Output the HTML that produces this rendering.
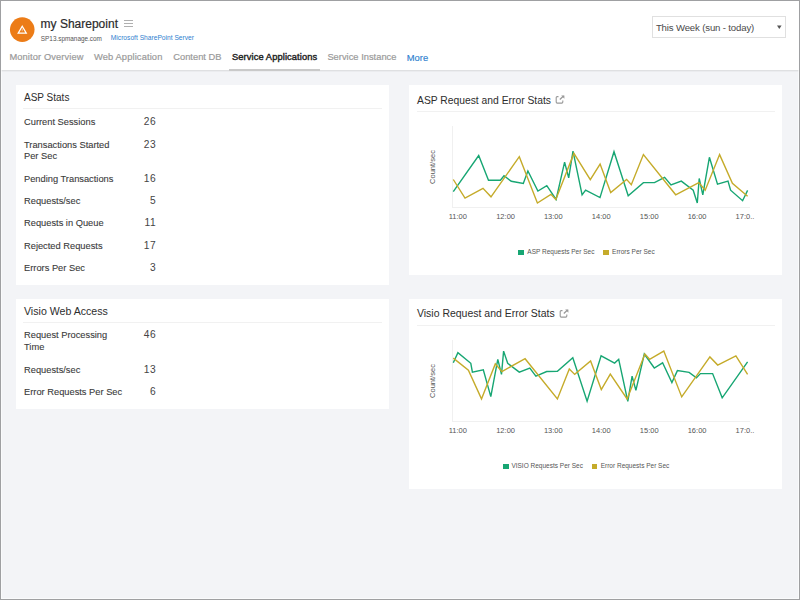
<!DOCTYPE html>
<html><head><meta charset="utf-8"><style>
html,body{margin:0;padding:0}
body{width:800px;height:600px;position:relative;overflow:hidden;background:#f3f4f7;font-family:"Liberation Sans",sans-serif}
.abs{position:absolute}
.t{position:absolute;white-space:nowrap;line-height:1}
.card{position:absolute;background:#fff}
#hdr{position:absolute;left:0;top:0;width:800px;height:70px;background:#fff}
#hdrline{position:absolute;left:0;top:70px;width:800px;height:2px;background:linear-gradient(#dfe0e2 50%,#ebecef 50%)}
#frame{position:absolute;left:0;top:0;width:800px;height:600px;box-sizing:border-box;border:1px solid #9fa0a2;pointer-events:none}
#frame2{position:absolute;left:1px;top:1px;width:798px;height:598px;box-sizing:border-box;border:1px solid rgba(255,255,255,0.6);pointer-events:none}
</style></head><body>
<div id="hdr"></div>
<div id="hdrline"></div>
<svg class="abs" style="left:0;top:0" width="60" height="50" viewBox="0 0 60 50">
<circle cx="22.25" cy="29.6" r="12.3" fill="#ec7c17"/>
<path d="M22.25 26.2 L26.3 33.1 L18.2 33.1 Z" fill="none" stroke="#fff" stroke-width="1.25" stroke-linejoin="miter"/>
<path d="M22.25 28.6 V31.3" stroke="#fff" stroke-width="0.7" opacity="0.75"/>
</svg>
<div class="t" style="left:40.60px;top:18.14px;font-size:12px;color:#2b2b2b;font-weight:normal;-webkit-text-stroke:0.2px #2b2b2b;">my Sharepoint</div>

<div class="abs" style="left:124px;top:20px;width:9px;height:1px;background:#b0b0b0"></div>
<div class="abs" style="left:124px;top:23px;width:9px;height:1px;background:#b0b0b0"></div>
<div class="abs" style="left:124px;top:26px;width:9px;height:1px;background:#b0b0b0"></div>
<div class="t" style="left:40.80px;top:35.68px;font-size:6.4px;color:#555;font-weight:normal;">SP13.spmanage.com</div>

<div class="t" style="left:110.80px;top:35.45px;font-size:6.67px;color:#2f7fcf;font-weight:normal;">Microsoft SharePoint Server</div>

<div class="t" style="left:9.40px;top:52.73px;font-size:9.3px;color:#9a9a9a;font-weight:normal;letter-spacing:0.12px;-webkit-text-stroke:0.2px #9a9a9a;">Monitor Overview</div>

<div class="t" style="left:94.00px;top:52.73px;font-size:9.3px;color:#9a9a9a;font-weight:normal;letter-spacing:0.13px;-webkit-text-stroke:0.2px #9a9a9a;">Web Application</div>

<div class="t" style="left:173.20px;top:52.73px;font-size:9.3px;color:#9a9a9a;font-weight:normal;letter-spacing:0.03px;-webkit-text-stroke:0.2px #9a9a9a;">Content DB</div>

<div class="t" style="left:232.00px;top:52.93px;font-size:9.3px;color:#222;font-weight:normal;letter-spacing:0.1px;-webkit-text-stroke:0.4px #222;">Service Applications</div>

<div class="t" style="left:327.40px;top:52.73px;font-size:9.3px;color:#9a9a9a;font-weight:normal;letter-spacing:0.02px;-webkit-text-stroke:0.2px #9a9a9a;">Service Instance</div>

<div class="t" style="left:406.80px;top:52.84px;font-size:9.4px;color:#2f7fcf;font-weight:normal;-webkit-text-stroke:0.15px #2f7fcf;">More</div>

<div class="abs" style="left:229px;top:68.6px;width:91px;height:2px;background:#c9c9c9"></div>
<div class="abs" style="left:652px;top:16px;width:132px;height:20px;border:1px solid #e0e0e0;background:#fff"></div>
<div class="t" style="left:655.90px;top:22.87px;font-size:9.6px;color:#4a4a4a;font-weight:normal;letter-spacing:-0.15px;">This Week (sun - today)</div>

<svg class="abs" style="left:770px;top:20px" width="16" height="12"><path d="M7 5.6 H11.6 L9.3 9 Z" fill="#555"/></svg>
<div class="card" style="left:16px;top:85px;width:373px;height:200px"></div>

<div class="card" style="left:16px;top:299px;width:373px;height:110px"></div>

<div class="card" style="left:409px;top:85px;width:373px;height:190px"></div>

<div class="card" style="left:409px;top:299px;width:373px;height:190px"></div>

<div class="abs" style="left:23px;top:108px;width:359px;height:1px;background:#f1f1f1"></div>

<div class="abs" style="left:23px;top:322px;width:359px;height:1px;background:#f1f1f1"></div>

<div class="abs" style="left:417px;top:111px;width:358px;height:1px;background:#f1f1f1"></div>

<div class="abs" style="left:417px;top:325px;width:358px;height:1px;background:#f1f1f1"></div>

<div class="t" style="left:24.00px;top:92.53px;font-size:10px;color:#2d2d2d;font-weight:normal;">ASP Stats</div>

<div class="t" style="left:24.00px;top:117.73px;font-size:9.3px;color:#3a3a3a;font-weight:normal;-webkit-text-stroke:0.1px #3a3a3a;">Current Sessions</div>

<div class="t" style="right:643.90px;text-align:right;top:116.67px;font-size:10.2px;color:#444;font-weight:normal;letter-spacing:0.5px;">26</div>

<div class="t" style="left:24.00px;top:140.73px;font-size:9.3px;color:#3a3a3a;font-weight:normal;-webkit-text-stroke:0.1px #3a3a3a;">Transactions Started</div>

<div class="t" style="left:24.00px;top:152.13px;font-size:9.3px;color:#3a3a3a;font-weight:normal;-webkit-text-stroke:0.1px #3a3a3a;">Per Sec</div>

<div class="t" style="right:643.90px;text-align:right;top:139.67px;font-size:10.2px;color:#444;font-weight:normal;letter-spacing:0.5px;">23</div>

<div class="t" style="left:24.00px;top:174.73px;font-size:9.3px;color:#3a3a3a;font-weight:normal;-webkit-text-stroke:0.1px #3a3a3a;">Pending Transactions</div>

<div class="t" style="right:643.90px;text-align:right;top:173.67px;font-size:10.2px;color:#444;font-weight:normal;letter-spacing:0.5px;">16</div>

<div class="t" style="left:24.00px;top:196.73px;font-size:9.3px;color:#3a3a3a;font-weight:normal;-webkit-text-stroke:0.1px #3a3a3a;">Requests/sec</div>

<div class="t" style="right:643.90px;text-align:right;top:195.67px;font-size:10.2px;color:#444;font-weight:normal;letter-spacing:0.5px;">5</div>

<div class="t" style="left:24.00px;top:219.23px;font-size:9.3px;color:#3a3a3a;font-weight:normal;-webkit-text-stroke:0.1px #3a3a3a;">Requests in Queue</div>

<div class="t" style="right:643.90px;text-align:right;top:218.17px;font-size:10.2px;color:#444;font-weight:normal;letter-spacing:0.5px;">11</div>

<div class="t" style="left:24.00px;top:241.73px;font-size:9.3px;color:#3a3a3a;font-weight:normal;-webkit-text-stroke:0.1px #3a3a3a;">Rejected Requests</div>

<div class="t" style="right:643.90px;text-align:right;top:240.67px;font-size:10.2px;color:#444;font-weight:normal;letter-spacing:0.5px;">17</div>

<div class="t" style="left:24.00px;top:264.03px;font-size:9.3px;color:#3a3a3a;font-weight:normal;-webkit-text-stroke:0.1px #3a3a3a;">Errors Per Sec</div>

<div class="t" style="right:643.90px;text-align:right;top:262.97px;font-size:10.2px;color:#444;font-weight:normal;letter-spacing:0.5px;">3</div>

<div class="t" style="left:24.00px;top:305.83px;font-size:10.6px;color:#2d2d2d;font-weight:normal;">Visio Web Access</div>

<div class="t" style="left:24.00px;top:331.23px;font-size:9.3px;color:#3a3a3a;font-weight:normal;-webkit-text-stroke:0.1px #3a3a3a;">Request Processing</div>

<div class="t" style="left:24.00px;top:343.43px;font-size:9.3px;color:#3a3a3a;font-weight:normal;-webkit-text-stroke:0.1px #3a3a3a;">Time</div>

<div class="t" style="right:643.90px;text-align:right;top:330.17px;font-size:10.2px;color:#444;font-weight:normal;letter-spacing:0.5px;">46</div>

<div class="t" style="left:24.00px;top:366.23px;font-size:9.3px;color:#3a3a3a;font-weight:normal;-webkit-text-stroke:0.1px #3a3a3a;">Requests/sec</div>

<div class="t" style="right:643.90px;text-align:right;top:365.17px;font-size:10.2px;color:#444;font-weight:normal;letter-spacing:0.5px;">13</div>

<div class="t" style="left:24.00px;top:388.33px;font-size:9.3px;color:#3a3a3a;font-weight:normal;-webkit-text-stroke:0.1px #3a3a3a;">Error Requests Per Sec</div>

<div class="t" style="right:643.90px;text-align:right;top:387.27px;font-size:10.2px;color:#444;font-weight:normal;letter-spacing:0.5px;">6</div>

<div class="t" style="left:417.00px;top:95.66px;font-size:10.32px;color:#2d2d2d;font-weight:normal;">ASP Request and Error Stats</div>

<svg class="abs" style="left:555px;top:95px" width="12" height="12" viewBox="0 0 12 12">
<path d="M3.5 1.6 H2.2 Q1.2 1.6 1.2 2.6 V7.1 Q1.2 8.1 2.2 8.1 H6.8 Q7.8 8.1 7.8 7.1 V5.6" fill="none" stroke="#999" stroke-width="1.1"/>
<path d="M4.8 4.4 L8.6 0.9" stroke="#999" stroke-width="1.3"/>
<path d="M6.2 0.5 H9.4 V3.7 Z" fill="#999"/>
</svg>
<div class="t" style="left:417.00px;top:309.33px;font-size:10.48px;color:#2d2d2d;font-weight:normal;">Visio Request and Error Stats</div>

<svg class="abs" style="left:558.5px;top:309px" width="12" height="12" viewBox="0 0 12 12">
<path d="M3.5 1.6 H2.2 Q1.2 1.6 1.2 2.6 V7.1 Q1.2 8.1 2.2 8.1 H6.8 Q7.8 8.1 7.8 7.1 V5.6" fill="none" stroke="#999" stroke-width="1.1"/>
<path d="M4.8 4.4 L8.6 0.9" stroke="#999" stroke-width="1.3"/>
<path d="M6.2 0.5 H9.4 V3.7 Z" fill="#999"/>
</svg>
<svg class="abs" style="left:0;top:0" width="800" height="600" viewBox="0 0 800 600">
<line x1="452.5" y1="126" x2="452.5" y2="207.5" stroke="#f0f0f0" stroke-width="1"/>
<line x1="452" y1="207.5" x2="750" y2="207.5" stroke="#f0f0f0" stroke-width="1"/>
<polyline points="453.3,191.6 478.7,155.5 488.5,180.2 500.4,180.2 504.0,175.7 511.3,181.3 523.3,183.5 527.9,171.0 537.9,191.0 546.8,185.6 556.1,199.4 564.6,162.2 568.7,177.9 573.0,151.1 582.1,194.8 585.6,190.2 600.0,197.6 614.0,151.7 628.2,195.8 643.4,182.6 654.5,182.6 664.6,177.3 671.0,184.9 681.3,181.1 693.2,190.2 697.3,203.0 699.2,178.5 702.8,194.8 709.4,157.3 717.5,184.1 728.0,181.1 730.6,190.2 742.6,200.7 747.6,190.4" fill="none" stroke="#17a673" stroke-width="1.4" stroke-linejoin="miter"/>
<polyline points="453.3,179.5 465.0,198.1 483.0,188.3 491.0,196.8 519.3,156.7 537.4,203.0 550.9,194.3 555.8,199.4 573.9,153.4 590.3,179.7 600.1,164.1 610.7,192.5 626.6,179.4 631.3,184.7 643.4,154.6 675.7,194.8 698.8,182.6 705.2,190.2 719.6,154.6 732.4,183.4 747.6,196.2" fill="none" stroke="#c5ab2a" stroke-width="1.4" stroke-linejoin="miter"/>
</svg>
<div class="t" style="left:413.3px;top:162.5px;width:40px;height:8px;font-size:7.5px;line-height:8px;text-align:center;color:#555;transform:rotate(-90deg)">Count/sec</div>
<div class="t" style="left:437.8px;top:212.85px;width:40px;text-align:center;font-size:7.5px;color:#555">11:00</div>
<div class="t" style="left:485.6px;top:212.85px;width:40px;text-align:center;font-size:7.5px;color:#555">12:00</div>
<div class="t" style="left:533.3px;top:212.85px;width:40px;text-align:center;font-size:7.5px;color:#555">13:00</div>
<div class="t" style="left:581.2px;top:212.85px;width:40px;text-align:center;font-size:7.5px;color:#555">14:00</div>
<div class="t" style="left:629.2px;top:212.85px;width:40px;text-align:center;font-size:7.5px;color:#555">15:00</div>
<div class="t" style="left:677.1px;top:212.85px;width:40px;text-align:center;font-size:7.5px;color:#555">16:00</div>
<div class="t" style="left:725px;top:212.85px;width:40px;text-align:center;font-size:7.5px;color:#555">17:0..</div>
<div class="abs" style="left:518px;top:249.6px;width:5.5px;height:5.5px;background:#17a673"></div>
<div class="t" style="left:527.30px;top:249.10px;font-size:6.5px;color:#555;font-weight:normal;">ASP Requests Per Sec</div>
<div class="abs" style="left:603px;top:249.6px;width:5.5px;height:5.5px;background:#c5ab2a"></div>
<div class="t" style="left:612.10px;top:249.10px;font-size:6.5px;color:#555;font-weight:normal;">Errors Per Sec</div>

<svg class="abs" style="left:0;top:0" width="800" height="600" viewBox="0 0 800 600">
<line x1="452.5" y1="340" x2="452.5" y2="421.5" stroke="#f0f0f0" stroke-width="1"/>
<line x1="452" y1="421.5" x2="750" y2="421.5" stroke="#f0f0f0" stroke-width="1"/>
<polyline points="453.3,362.8 457.9,352.6 470.8,363.3 472.4,372.1 483.3,369.8 490.8,396.6 497.8,359.3 501.5,374.4 503.6,351.1 507.7,363.3 519.3,372.1 529.8,368.2 535.9,376.2 546.7,371.5 557.4,371.3 572.8,357.7 587.1,401.3 601.1,355.8 614.6,363.1 618.7,359.3 627.8,401.3 632.1,376.2 635.9,390.4 644.3,354.0 654.3,368.0 662.6,362.8 671.9,382.6 677.4,370.6 689.1,372.4 696.4,377.9 700.4,373.6 712.6,373.6 722.2,397.8 747.6,361.9" fill="none" stroke="#17a673" stroke-width="1.4" stroke-linejoin="miter"/>
<polyline points="453.3,358.1 468.4,370.3 481.5,398.9 495.3,363.9 501.9,371.5 525.1,358.7 557.4,398.9 569.3,368.9 574.7,374.4 590.6,361.0 601.3,389.6 610.3,374.1 627.1,398.9 644.9,354.0 649.6,359.3 663.8,351.1 681.7,396.9 709.9,356.9 717.7,365.1 735.9,355.8 747.6,374.4" fill="none" stroke="#c5ab2a" stroke-width="1.4" stroke-linejoin="miter"/>
</svg>
<div class="t" style="left:413.3px;top:376.5px;width:40px;height:8px;font-size:7.5px;line-height:8px;text-align:center;color:#555;transform:rotate(-90deg)">Count/sec</div>
<div class="t" style="left:437.8px;top:426.85px;width:40px;text-align:center;font-size:7.5px;color:#555">11:00</div>
<div class="t" style="left:485.6px;top:426.85px;width:40px;text-align:center;font-size:7.5px;color:#555">12:00</div>
<div class="t" style="left:533.3px;top:426.85px;width:40px;text-align:center;font-size:7.5px;color:#555">13:00</div>
<div class="t" style="left:581.2px;top:426.85px;width:40px;text-align:center;font-size:7.5px;color:#555">14:00</div>
<div class="t" style="left:629.2px;top:426.85px;width:40px;text-align:center;font-size:7.5px;color:#555">15:00</div>
<div class="t" style="left:677.1px;top:426.85px;width:40px;text-align:center;font-size:7.5px;color:#555">16:00</div>
<div class="t" style="left:725px;top:426.85px;width:40px;text-align:center;font-size:7.5px;color:#555">17:0..</div>
<div class="abs" style="left:503px;top:463.6px;width:5.5px;height:5.5px;background:#17a673"></div>
<div class="t" style="left:511.40px;top:463.10px;font-size:6.5px;color:#555;font-weight:normal;">VISIO Requests Per Sec</div>
<div class="abs" style="left:591.8px;top:463.6px;width:5.5px;height:5.5px;background:#c5ab2a"></div>
<div class="t" style="left:600.70px;top:463.10px;font-size:6.5px;color:#555;font-weight:normal;">Error Requests Per Sec</div>

<div id="frame2"></div><div id="frame"></div>
</body></html>
